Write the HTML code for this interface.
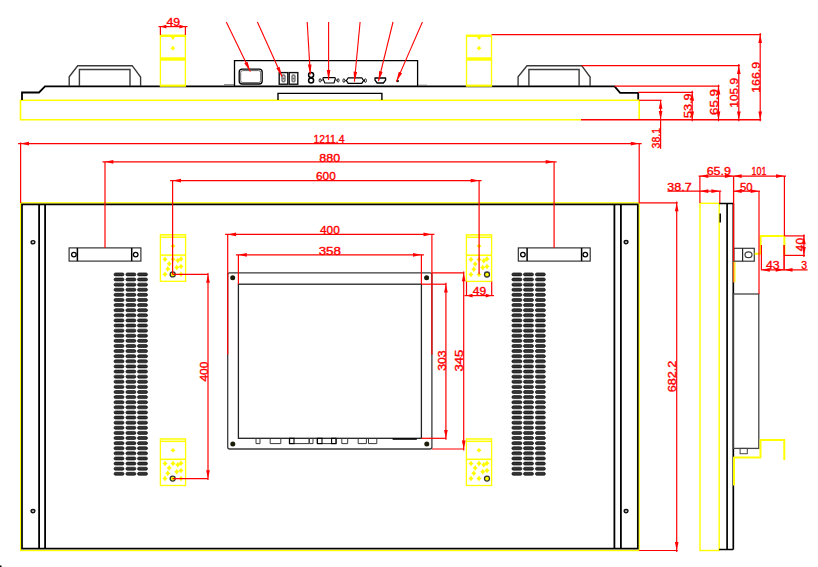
<!DOCTYPE html>
<html><head><meta charset="utf-8"><style>
html,body{margin:0;padding:0;background:#fff;}
body{width:818px;height:567px;overflow:hidden;}
svg{display:block;}
text{font-family:"Liberation Sans", sans-serif;}
</style></head><body>
<svg width="818" height="567" viewBox="0 0 818 567">
<rect width="818" height="567" fill="#fff"/>
<path d="M581,119.7 L20.5,119.7 L20.5,100.3 L639.2,100.3 L639.2,119.7" stroke="#ffff00" stroke-width="1.6" fill="none" />
<path d="M22,100 L22,92.5 L39,92.5 L45,86.3 L614.6,86.3 L620.1,92.8 L638.2,92.8 L638.2,99.6" stroke="#000000" stroke-width="1.8" fill="none" />
<path d="M69.2,86 L69.2,76.8 L77.7,65.7 L132.2,65.7 L140.6,77 L140.6,86" stroke="#3a3a3a" stroke-width="1.4" fill="none" />
<path d="M79.4,86 L79.4,69.5 L130.0,69.5 L130.0,86" stroke="#3a3a3a" stroke-width="1.4" fill="none" />
<path d="M518.1,86 L518.1,76.8 L527.0,65.7 L581.7,65.7 L590.1,77 L590.1,86" stroke="#3a3a3a" stroke-width="1.4" fill="none" />
<path d="M528.9,86 L528.9,69.5 L579.1,69.5 L579.1,86" stroke="#3a3a3a" stroke-width="1.4" fill="none" />
<rect x="160.4" y="35.2" width="25" height="50.9" fill="none" stroke="#ffff00" stroke-width="1.3"/>
<rect x="160.4" y="35" width="25" height="2" fill="#ffff00"/>
<rect x="160.4" y="57.3" width="25" height="3.4" fill="#ffff00"/>
<rect x="160.4" y="84.6" width="25" height="1.6" fill="#ffff00"/>
<path d="M170.5,36.5 L175.3,36.5 L172.9,40 Z" fill="#ffff00"/>
<path d="M172.90,45.60 Q173.57,47.47 175.30,48.20 Q173.57,48.93 172.90,50.80 Q172.23,48.93 170.50,48.20 Q172.23,47.47 172.90,45.60 Z" fill="#ffff00"/>
<rect x="466.5" y="35.2" width="25" height="50.9" fill="none" stroke="#ffff00" stroke-width="1.3"/>
<rect x="466.5" y="35" width="25" height="2" fill="#ffff00"/>
<rect x="466.5" y="57.3" width="25" height="3.4" fill="#ffff00"/>
<rect x="466.5" y="84.6" width="25" height="1.6" fill="#ffff00"/>
<path d="M476.6,36.5 L481.4,36.5 L479.0,40 Z" fill="#ffff00"/>
<path d="M479.00,45.60 Q479.67,47.47 481.40,48.20 Q479.67,48.93 479.00,50.80 Q478.33,48.93 476.60,48.20 Q478.33,47.47 479.00,45.60 Z" fill="#ffff00"/>
<path d="M234.5,86 L234.5,60.6 L417.6,60.6 L417.6,86" stroke="#000000" stroke-width="1.3" fill="none" />
<path d="M224,84.6 L234,84.6" stroke="#666" stroke-width="0.8" fill="none" />
<path d="M418,85.2 L427,85.2" stroke="#666" stroke-width="0.8" fill="none" />
<path d="M278,100 L278,93.4 L381.9,93.4 L381.9,100" stroke="#000000" stroke-width="1.4" fill="none" />
<rect x="239.2" y="69.2" width="23" height="14.8" rx="3" fill="none" stroke="#000000" stroke-width="1.3"/>
<rect x="240.7" y="70.6" width="20" height="12" rx="2" fill="none" stroke="#555" stroke-width="0.9"/>
<rect x="279.2" y="72.6" width="8.6" height="11.6" fill="none" stroke="#111" stroke-width="1.4"/>
<rect x="281.3" y="74.2" width="4.4" height="8.4" rx="2" fill="#777"/>
<path d="M282.3,77.6 L284.7,77.6 L283.5,75.8 Z M282.3,79.4 L284.7,79.4 L283.5,81.2 Z" fill="#eee"/>
<rect x="289.2" y="72.6" width="8.6" height="11.6" fill="none" stroke="#111" stroke-width="1.4"/>
<rect x="291.3" y="74.2" width="4.4" height="8.4" rx="2" fill="#777"/>
<path d="M292.3,77.6 L294.7,77.6 L293.5,75.8 Z M292.3,79.4 L294.7,79.4 L293.5,81.2 Z" fill="#eee"/>
<circle cx="311.1" cy="75.1" r="2.5" fill="none" stroke="#000000" stroke-width="1.5"/>
<circle cx="311.1" cy="80.6" r="2.5" fill="none" stroke="#000000" stroke-width="1.5"/>
<path d="M323.4,77.6 L334.6,77.6 Q335.6,77.6 335.3,78.6 L334.0,83.0 L324.8,83.0 L323.0,78.6 Q322.8,77.6 323.4,77.6 Z" stroke="#000000" stroke-width="1.1" fill="none" stroke-linejoin="round"/>
<path d="M321,80.4 L323.2,79.8 M335.2,79.8 L337.4,80.4" stroke="#000000" stroke-width="0.9" fill="none" />
<ellipse cx="320.1" cy="80.4" rx="1.0" ry="1.7" fill="none" stroke="#000000" stroke-width="0.9"/>
<ellipse cx="338.1" cy="80.4" rx="1.0" ry="1.7" fill="none" stroke="#000000" stroke-width="0.9"/>
<path d="M348.2,77.8 L361.8,77.8 L363.6,80.6 L361.8,83.3 L348.2,83.3 L346.4,80.6 Z" stroke="#000000" stroke-width="1.2" fill="none" stroke-linejoin="round"/>
<path d="M345.0,80.6 L346.4,80.6 M363.6,80.6 L365.0,80.6" stroke="#000000" stroke-width="0.9" fill="none" />
<ellipse cx="343.9" cy="80.6" rx="1.0" ry="1.8" fill="none" stroke="#000000" stroke-width="0.9"/>
<ellipse cx="365.4" cy="80.6" rx="1.0" ry="1.8" fill="none" stroke="#000000" stroke-width="0.9"/>
<path d="M375.0,78.0 L385.6,78.0 L385.6,80.2 L383.4,83.0 L377.2,83.0 L375.0,80.2 Z" stroke="#000000" stroke-width="1.3" fill="none" stroke-linejoin="round"/>
<circle cx="397.7" cy="81.0" r="1.3" fill="#222"/>
<rect x="20.7" y="202.9" width="618.4" height="347.6" fill="none" stroke="#ffff00" stroke-width="1.4"/>
<rect x="22.0" y="204.4" width="615.8" height="344.2" fill="none" stroke="#000000" stroke-width="1.7"/>
<line x1="39.1" y1="204.2" x2="39.1" y2="548.6" stroke="#000000" stroke-width="1.8" />
<line x1="45.1" y1="204.2" x2="45.1" y2="548.6" stroke="#000000" stroke-width="1.8" />
<line x1="614.4" y1="204.2" x2="614.4" y2="548.6" stroke="#000000" stroke-width="1.8" />
<line x1="620.9" y1="204.2" x2="620.9" y2="548.6" stroke="#000000" stroke-width="1.8" />
<ellipse cx="33" cy="242.2" rx="1.9" ry="1.6" fill="#ccc" stroke="#111" stroke-width="1.4"/>
<ellipse cx="33" cy="511.1" rx="1.9" ry="1.6" fill="#ccc" stroke="#111" stroke-width="1.4"/>
<ellipse cx="626.1" cy="242.1" rx="1.9" ry="1.6" fill="#ccc" stroke="#111" stroke-width="1.4"/>
<ellipse cx="626.1" cy="511.1" rx="1.9" ry="1.6" fill="#ccc" stroke="#111" stroke-width="1.4"/>
<rect x="69.1" y="247.9" width="71.8" height="13.2" fill="none" stroke="#222" stroke-width="1.1"/>
<line x1="77.4" y1="247.9" x2="77.4" y2="261.1" stroke="#000000" stroke-width="1.5" />
<line x1="131.7" y1="247.9" x2="131.7" y2="261.1" stroke="#000000" stroke-width="1.5" />
<circle cx="73.9" cy="254.6" r="2.3" fill="none" stroke="#000000" stroke-width="1.3"/>
<circle cx="135.7" cy="254.6" r="2.3" fill="none" stroke="#000000" stroke-width="1.3"/>
<rect x="518.3" y="247.9" width="71.9" height="13.2" fill="none" stroke="#222" stroke-width="1.1"/>
<line x1="527.1" y1="247.9" x2="527.1" y2="261.1" stroke="#000000" stroke-width="1.5" />
<line x1="581.6" y1="247.9" x2="581.6" y2="261.1" stroke="#000000" stroke-width="1.5" />
<circle cx="522.9" cy="254.6" r="2.3" fill="none" stroke="#000000" stroke-width="1.3"/>
<circle cx="585.3" cy="254.6" r="2.3" fill="none" stroke="#000000" stroke-width="1.3"/>
<g fill="#333" stroke="#000" stroke-width="0.6"><rect x="114.0" y="272.90" width="10" height="3.0" rx="1.5"/><rect x="125.9" y="272.90" width="10" height="3.0" rx="1.5"/><rect x="137.5" y="272.90" width="10" height="3.0" rx="1.5"/><rect x="114.0" y="278.01" width="10" height="3.0" rx="1.5"/><rect x="125.9" y="278.01" width="10" height="3.0" rx="1.5"/><rect x="137.5" y="278.01" width="10" height="3.0" rx="1.5"/><rect x="114.0" y="283.13" width="10" height="3.0" rx="1.5"/><rect x="125.9" y="283.13" width="10" height="3.0" rx="1.5"/><rect x="137.5" y="283.13" width="10" height="3.0" rx="1.5"/><rect x="114.0" y="288.24" width="10" height="3.0" rx="1.5"/><rect x="125.9" y="288.24" width="10" height="3.0" rx="1.5"/><rect x="137.5" y="288.24" width="10" height="3.0" rx="1.5"/><rect x="114.0" y="293.35" width="10" height="3.0" rx="1.5"/><rect x="125.9" y="293.35" width="10" height="3.0" rx="1.5"/><rect x="137.5" y="293.35" width="10" height="3.0" rx="1.5"/><rect x="114.0" y="298.46" width="10" height="3.0" rx="1.5"/><rect x="125.9" y="298.46" width="10" height="3.0" rx="1.5"/><rect x="137.5" y="298.46" width="10" height="3.0" rx="1.5"/><rect x="114.0" y="303.58" width="10" height="3.0" rx="1.5"/><rect x="125.9" y="303.58" width="10" height="3.0" rx="1.5"/><rect x="137.5" y="303.58" width="10" height="3.0" rx="1.5"/><rect x="114.0" y="308.69" width="10" height="3.0" rx="1.5"/><rect x="125.9" y="308.69" width="10" height="3.0" rx="1.5"/><rect x="137.5" y="308.69" width="10" height="3.0" rx="1.5"/><rect x="114.0" y="313.80" width="10" height="3.0" rx="1.5"/><rect x="125.9" y="313.80" width="10" height="3.0" rx="1.5"/><rect x="137.5" y="313.80" width="10" height="3.0" rx="1.5"/><rect x="114.0" y="318.92" width="10" height="3.0" rx="1.5"/><rect x="125.9" y="318.92" width="10" height="3.0" rx="1.5"/><rect x="137.5" y="318.92" width="10" height="3.0" rx="1.5"/><rect x="114.0" y="324.03" width="10" height="3.0" rx="1.5"/><rect x="125.9" y="324.03" width="10" height="3.0" rx="1.5"/><rect x="137.5" y="324.03" width="10" height="3.0" rx="1.5"/><rect x="114.0" y="329.14" width="10" height="3.0" rx="1.5"/><rect x="125.9" y="329.14" width="10" height="3.0" rx="1.5"/><rect x="137.5" y="329.14" width="10" height="3.0" rx="1.5"/><rect x="114.0" y="334.26" width="10" height="3.0" rx="1.5"/><rect x="125.9" y="334.26" width="10" height="3.0" rx="1.5"/><rect x="137.5" y="334.26" width="10" height="3.0" rx="1.5"/><rect x="114.0" y="339.37" width="10" height="3.0" rx="1.5"/><rect x="125.9" y="339.37" width="10" height="3.0" rx="1.5"/><rect x="137.5" y="339.37" width="10" height="3.0" rx="1.5"/><rect x="114.0" y="344.48" width="10" height="3.0" rx="1.5"/><rect x="125.9" y="344.48" width="10" height="3.0" rx="1.5"/><rect x="137.5" y="344.48" width="10" height="3.0" rx="1.5"/><rect x="114.0" y="349.59" width="10" height="3.0" rx="1.5"/><rect x="125.9" y="349.59" width="10" height="3.0" rx="1.5"/><rect x="137.5" y="349.59" width="10" height="3.0" rx="1.5"/><rect x="114.0" y="354.71" width="10" height="3.0" rx="1.5"/><rect x="125.9" y="354.71" width="10" height="3.0" rx="1.5"/><rect x="137.5" y="354.71" width="10" height="3.0" rx="1.5"/><rect x="114.0" y="359.82" width="10" height="3.0" rx="1.5"/><rect x="125.9" y="359.82" width="10" height="3.0" rx="1.5"/><rect x="137.5" y="359.82" width="10" height="3.0" rx="1.5"/><rect x="114.0" y="364.93" width="10" height="3.0" rx="1.5"/><rect x="125.9" y="364.93" width="10" height="3.0" rx="1.5"/><rect x="137.5" y="364.93" width="10" height="3.0" rx="1.5"/><rect x="114.0" y="370.05" width="10" height="3.0" rx="1.5"/><rect x="125.9" y="370.05" width="10" height="3.0" rx="1.5"/><rect x="137.5" y="370.05" width="10" height="3.0" rx="1.5"/><rect x="114.0" y="375.16" width="10" height="3.0" rx="1.5"/><rect x="125.9" y="375.16" width="10" height="3.0" rx="1.5"/><rect x="137.5" y="375.16" width="10" height="3.0" rx="1.5"/><rect x="114.0" y="380.27" width="10" height="3.0" rx="1.5"/><rect x="125.9" y="380.27" width="10" height="3.0" rx="1.5"/><rect x="137.5" y="380.27" width="10" height="3.0" rx="1.5"/><rect x="114.0" y="385.39" width="10" height="3.0" rx="1.5"/><rect x="125.9" y="385.39" width="10" height="3.0" rx="1.5"/><rect x="137.5" y="385.39" width="10" height="3.0" rx="1.5"/><rect x="114.0" y="390.50" width="10" height="3.0" rx="1.5"/><rect x="125.9" y="390.50" width="10" height="3.0" rx="1.5"/><rect x="137.5" y="390.50" width="10" height="3.0" rx="1.5"/><rect x="114.0" y="395.61" width="10" height="3.0" rx="1.5"/><rect x="125.9" y="395.61" width="10" height="3.0" rx="1.5"/><rect x="137.5" y="395.61" width="10" height="3.0" rx="1.5"/><rect x="114.0" y="400.73" width="10" height="3.0" rx="1.5"/><rect x="125.9" y="400.73" width="10" height="3.0" rx="1.5"/><rect x="137.5" y="400.73" width="10" height="3.0" rx="1.5"/><rect x="114.0" y="405.84" width="10" height="3.0" rx="1.5"/><rect x="125.9" y="405.84" width="10" height="3.0" rx="1.5"/><rect x="137.5" y="405.84" width="10" height="3.0" rx="1.5"/><rect x="114.0" y="410.95" width="10" height="3.0" rx="1.5"/><rect x="125.9" y="410.95" width="10" height="3.0" rx="1.5"/><rect x="137.5" y="410.95" width="10" height="3.0" rx="1.5"/><rect x="114.0" y="416.06" width="10" height="3.0" rx="1.5"/><rect x="125.9" y="416.06" width="10" height="3.0" rx="1.5"/><rect x="137.5" y="416.06" width="10" height="3.0" rx="1.5"/><rect x="114.0" y="421.18" width="10" height="3.0" rx="1.5"/><rect x="125.9" y="421.18" width="10" height="3.0" rx="1.5"/><rect x="137.5" y="421.18" width="10" height="3.0" rx="1.5"/><rect x="114.0" y="426.29" width="10" height="3.0" rx="1.5"/><rect x="125.9" y="426.29" width="10" height="3.0" rx="1.5"/><rect x="137.5" y="426.29" width="10" height="3.0" rx="1.5"/><rect x="114.0" y="431.40" width="10" height="3.0" rx="1.5"/><rect x="125.9" y="431.40" width="10" height="3.0" rx="1.5"/><rect x="137.5" y="431.40" width="10" height="3.0" rx="1.5"/><rect x="114.0" y="436.52" width="10" height="3.0" rx="1.5"/><rect x="125.9" y="436.52" width="10" height="3.0" rx="1.5"/><rect x="137.5" y="436.52" width="10" height="3.0" rx="1.5"/><rect x="114.0" y="441.63" width="10" height="3.0" rx="1.5"/><rect x="125.9" y="441.63" width="10" height="3.0" rx="1.5"/><rect x="137.5" y="441.63" width="10" height="3.0" rx="1.5"/><rect x="114.0" y="446.74" width="10" height="3.0" rx="1.5"/><rect x="125.9" y="446.74" width="10" height="3.0" rx="1.5"/><rect x="137.5" y="446.74" width="10" height="3.0" rx="1.5"/><rect x="114.0" y="451.86" width="10" height="3.0" rx="1.5"/><rect x="125.9" y="451.86" width="10" height="3.0" rx="1.5"/><rect x="137.5" y="451.86" width="10" height="3.0" rx="1.5"/><rect x="114.0" y="456.97" width="10" height="3.0" rx="1.5"/><rect x="125.9" y="456.97" width="10" height="3.0" rx="1.5"/><rect x="137.5" y="456.97" width="10" height="3.0" rx="1.5"/><rect x="114.0" y="462.08" width="10" height="3.0" rx="1.5"/><rect x="125.9" y="462.08" width="10" height="3.0" rx="1.5"/><rect x="137.5" y="462.08" width="10" height="3.0" rx="1.5"/><rect x="114.0" y="467.19" width="10" height="3.0" rx="1.5"/><rect x="125.9" y="467.19" width="10" height="3.0" rx="1.5"/><rect x="137.5" y="467.19" width="10" height="3.0" rx="1.5"/><rect x="114.0" y="472.31" width="10" height="3.0" rx="1.5"/><rect x="125.9" y="472.31" width="10" height="3.0" rx="1.5"/><rect x="137.5" y="472.31" width="10" height="3.0" rx="1.5"/><rect x="511.9" y="272.90" width="10" height="3.0" rx="1.5"/><rect x="523.5" y="272.90" width="10" height="3.0" rx="1.5"/><rect x="535.4" y="272.90" width="10" height="3.0" rx="1.5"/><rect x="511.9" y="278.01" width="10" height="3.0" rx="1.5"/><rect x="523.5" y="278.01" width="10" height="3.0" rx="1.5"/><rect x="535.4" y="278.01" width="10" height="3.0" rx="1.5"/><rect x="511.9" y="283.13" width="10" height="3.0" rx="1.5"/><rect x="523.5" y="283.13" width="10" height="3.0" rx="1.5"/><rect x="535.4" y="283.13" width="10" height="3.0" rx="1.5"/><rect x="511.9" y="288.24" width="10" height="3.0" rx="1.5"/><rect x="523.5" y="288.24" width="10" height="3.0" rx="1.5"/><rect x="535.4" y="288.24" width="10" height="3.0" rx="1.5"/><rect x="511.9" y="293.35" width="10" height="3.0" rx="1.5"/><rect x="523.5" y="293.35" width="10" height="3.0" rx="1.5"/><rect x="535.4" y="293.35" width="10" height="3.0" rx="1.5"/><rect x="511.9" y="298.46" width="10" height="3.0" rx="1.5"/><rect x="523.5" y="298.46" width="10" height="3.0" rx="1.5"/><rect x="535.4" y="298.46" width="10" height="3.0" rx="1.5"/><rect x="511.9" y="303.58" width="10" height="3.0" rx="1.5"/><rect x="523.5" y="303.58" width="10" height="3.0" rx="1.5"/><rect x="535.4" y="303.58" width="10" height="3.0" rx="1.5"/><rect x="511.9" y="308.69" width="10" height="3.0" rx="1.5"/><rect x="523.5" y="308.69" width="10" height="3.0" rx="1.5"/><rect x="535.4" y="308.69" width="10" height="3.0" rx="1.5"/><rect x="511.9" y="313.80" width="10" height="3.0" rx="1.5"/><rect x="523.5" y="313.80" width="10" height="3.0" rx="1.5"/><rect x="535.4" y="313.80" width="10" height="3.0" rx="1.5"/><rect x="511.9" y="318.92" width="10" height="3.0" rx="1.5"/><rect x="523.5" y="318.92" width="10" height="3.0" rx="1.5"/><rect x="535.4" y="318.92" width="10" height="3.0" rx="1.5"/><rect x="511.9" y="324.03" width="10" height="3.0" rx="1.5"/><rect x="523.5" y="324.03" width="10" height="3.0" rx="1.5"/><rect x="535.4" y="324.03" width="10" height="3.0" rx="1.5"/><rect x="511.9" y="329.14" width="10" height="3.0" rx="1.5"/><rect x="523.5" y="329.14" width="10" height="3.0" rx="1.5"/><rect x="535.4" y="329.14" width="10" height="3.0" rx="1.5"/><rect x="511.9" y="334.26" width="10" height="3.0" rx="1.5"/><rect x="523.5" y="334.26" width="10" height="3.0" rx="1.5"/><rect x="535.4" y="334.26" width="10" height="3.0" rx="1.5"/><rect x="511.9" y="339.37" width="10" height="3.0" rx="1.5"/><rect x="523.5" y="339.37" width="10" height="3.0" rx="1.5"/><rect x="535.4" y="339.37" width="10" height="3.0" rx="1.5"/><rect x="511.9" y="344.48" width="10" height="3.0" rx="1.5"/><rect x="523.5" y="344.48" width="10" height="3.0" rx="1.5"/><rect x="535.4" y="344.48" width="10" height="3.0" rx="1.5"/><rect x="511.9" y="349.59" width="10" height="3.0" rx="1.5"/><rect x="523.5" y="349.59" width="10" height="3.0" rx="1.5"/><rect x="535.4" y="349.59" width="10" height="3.0" rx="1.5"/><rect x="511.9" y="354.71" width="10" height="3.0" rx="1.5"/><rect x="523.5" y="354.71" width="10" height="3.0" rx="1.5"/><rect x="535.4" y="354.71" width="10" height="3.0" rx="1.5"/><rect x="511.9" y="359.82" width="10" height="3.0" rx="1.5"/><rect x="523.5" y="359.82" width="10" height="3.0" rx="1.5"/><rect x="535.4" y="359.82" width="10" height="3.0" rx="1.5"/><rect x="511.9" y="364.93" width="10" height="3.0" rx="1.5"/><rect x="523.5" y="364.93" width="10" height="3.0" rx="1.5"/><rect x="535.4" y="364.93" width="10" height="3.0" rx="1.5"/><rect x="511.9" y="370.05" width="10" height="3.0" rx="1.5"/><rect x="523.5" y="370.05" width="10" height="3.0" rx="1.5"/><rect x="535.4" y="370.05" width="10" height="3.0" rx="1.5"/><rect x="511.9" y="375.16" width="10" height="3.0" rx="1.5"/><rect x="523.5" y="375.16" width="10" height="3.0" rx="1.5"/><rect x="535.4" y="375.16" width="10" height="3.0" rx="1.5"/><rect x="511.9" y="380.27" width="10" height="3.0" rx="1.5"/><rect x="523.5" y="380.27" width="10" height="3.0" rx="1.5"/><rect x="535.4" y="380.27" width="10" height="3.0" rx="1.5"/><rect x="511.9" y="385.39" width="10" height="3.0" rx="1.5"/><rect x="523.5" y="385.39" width="10" height="3.0" rx="1.5"/><rect x="535.4" y="385.39" width="10" height="3.0" rx="1.5"/><rect x="511.9" y="390.50" width="10" height="3.0" rx="1.5"/><rect x="523.5" y="390.50" width="10" height="3.0" rx="1.5"/><rect x="535.4" y="390.50" width="10" height="3.0" rx="1.5"/><rect x="511.9" y="395.61" width="10" height="3.0" rx="1.5"/><rect x="523.5" y="395.61" width="10" height="3.0" rx="1.5"/><rect x="535.4" y="395.61" width="10" height="3.0" rx="1.5"/><rect x="511.9" y="400.73" width="10" height="3.0" rx="1.5"/><rect x="523.5" y="400.73" width="10" height="3.0" rx="1.5"/><rect x="535.4" y="400.73" width="10" height="3.0" rx="1.5"/><rect x="511.9" y="405.84" width="10" height="3.0" rx="1.5"/><rect x="523.5" y="405.84" width="10" height="3.0" rx="1.5"/><rect x="535.4" y="405.84" width="10" height="3.0" rx="1.5"/><rect x="511.9" y="410.95" width="10" height="3.0" rx="1.5"/><rect x="523.5" y="410.95" width="10" height="3.0" rx="1.5"/><rect x="535.4" y="410.95" width="10" height="3.0" rx="1.5"/><rect x="511.9" y="416.06" width="10" height="3.0" rx="1.5"/><rect x="523.5" y="416.06" width="10" height="3.0" rx="1.5"/><rect x="535.4" y="416.06" width="10" height="3.0" rx="1.5"/><rect x="511.9" y="421.18" width="10" height="3.0" rx="1.5"/><rect x="523.5" y="421.18" width="10" height="3.0" rx="1.5"/><rect x="535.4" y="421.18" width="10" height="3.0" rx="1.5"/><rect x="511.9" y="426.29" width="10" height="3.0" rx="1.5"/><rect x="523.5" y="426.29" width="10" height="3.0" rx="1.5"/><rect x="535.4" y="426.29" width="10" height="3.0" rx="1.5"/><rect x="511.9" y="431.40" width="10" height="3.0" rx="1.5"/><rect x="523.5" y="431.40" width="10" height="3.0" rx="1.5"/><rect x="535.4" y="431.40" width="10" height="3.0" rx="1.5"/><rect x="511.9" y="436.52" width="10" height="3.0" rx="1.5"/><rect x="523.5" y="436.52" width="10" height="3.0" rx="1.5"/><rect x="535.4" y="436.52" width="10" height="3.0" rx="1.5"/><rect x="511.9" y="441.63" width="10" height="3.0" rx="1.5"/><rect x="523.5" y="441.63" width="10" height="3.0" rx="1.5"/><rect x="535.4" y="441.63" width="10" height="3.0" rx="1.5"/><rect x="511.9" y="446.74" width="10" height="3.0" rx="1.5"/><rect x="523.5" y="446.74" width="10" height="3.0" rx="1.5"/><rect x="535.4" y="446.74" width="10" height="3.0" rx="1.5"/><rect x="511.9" y="451.86" width="10" height="3.0" rx="1.5"/><rect x="523.5" y="451.86" width="10" height="3.0" rx="1.5"/><rect x="535.4" y="451.86" width="10" height="3.0" rx="1.5"/><rect x="511.9" y="456.97" width="10" height="3.0" rx="1.5"/><rect x="523.5" y="456.97" width="10" height="3.0" rx="1.5"/><rect x="535.4" y="456.97" width="10" height="3.0" rx="1.5"/><rect x="511.9" y="462.08" width="10" height="3.0" rx="1.5"/><rect x="523.5" y="462.08" width="10" height="3.0" rx="1.5"/><rect x="535.4" y="462.08" width="10" height="3.0" rx="1.5"/><rect x="511.9" y="467.19" width="10" height="3.0" rx="1.5"/><rect x="523.5" y="467.19" width="10" height="3.0" rx="1.5"/><rect x="535.4" y="467.19" width="10" height="3.0" rx="1.5"/><rect x="511.9" y="472.31" width="10" height="3.0" rx="1.5"/><rect x="523.5" y="472.31" width="10" height="3.0" rx="1.5"/><rect x="535.4" y="472.31" width="10" height="3.0" rx="1.5"/></g>
<rect x="160.4" y="234.7" width="25.2" height="46.6" fill="none" stroke="#ffff00" stroke-width="1.3"/>
<rect x="160.4" y="234.7" width="25.2" height="2.6" fill="#ffff00" opacity="0.35"/>
<line x1="160.4" y1="237.29999999999998" x2="185.6" y2="237.29999999999998" stroke="#ffff00" stroke-width="1.2" />
<line x1="160.4" y1="255.1" x2="185.6" y2="255.1" stroke="#ffff00" stroke-width="1.5" />
<path d="M173.00,243.50 Q173.76,245.30 175.70,246.00 Q173.76,246.70 173.00,248.50 Q172.24,246.70 170.30,246.00 Q172.24,245.30 173.00,243.50 Z" fill="#ffff00"/>
<path d="M165.00,256.30 Q165.73,258.46 167.60,259.30 Q165.73,260.14 165.00,262.30 Q164.27,260.14 162.40,259.30 Q164.27,258.46 165.00,256.30 Z" fill="#ffff00"/>
<path d="M173.00,256.30 Q173.73,258.46 175.60,259.30 Q173.73,260.14 173.00,262.30 Q172.27,260.14 170.40,259.30 Q172.27,258.46 173.00,256.30 Z" fill="#ffff00"/>
<path d="M177.80,257.60 Q178.53,259.76 180.40,260.60 Q178.53,261.44 177.80,263.60 Q177.07,261.44 175.20,260.60 Q177.07,259.76 177.80,257.60 Z" fill="#ffff00"/>
<path d="M181.00,256.00 Q181.73,258.16 183.60,259.00 Q181.73,259.84 181.00,262.00 Q180.27,259.84 178.40,259.00 Q180.27,258.16 181.00,256.00 Z" fill="#ffff00"/>
<path d="M169.20,260.80 Q169.93,262.96 171.80,263.80 Q169.93,264.64 169.20,266.80 Q168.47,264.64 166.60,263.80 Q168.47,262.96 169.20,260.80 Z" fill="#ffff00"/>
<path d="M167.80,266.10 Q168.53,268.26 170.40,269.10 Q168.53,269.94 167.80,272.10 Q167.07,269.94 165.20,269.10 Q167.07,268.26 167.80,266.10 Z" fill="#ffff00"/>
<path d="M176.80,264.50 Q177.53,266.66 179.40,267.50 Q177.53,268.34 176.80,270.50 Q176.07,268.34 174.20,267.50 Q176.07,266.66 176.80,264.50 Z" fill="#ffff00"/>
<path d="M181.00,263.40 Q181.73,265.56 183.60,266.40 Q181.73,267.24 181.00,269.40 Q180.27,267.24 178.40,266.40 Q180.27,265.56 181.00,263.40 Z" fill="#ffff00"/>
<path d="M165.00,271.30 Q165.73,273.46 167.60,274.30 Q165.73,275.14 165.00,277.30 Q164.27,275.14 162.40,274.30 Q164.27,273.46 165.00,271.30 Z" fill="#ffff00"/>
<path d="M181.00,271.30 Q181.73,273.46 183.60,274.30 Q181.73,275.14 181.00,277.30 Q180.27,275.14 178.40,274.30 Q180.27,273.46 181.00,271.30 Z" fill="#ffff00"/>
<circle cx="172.7" cy="274.4" r="2.5" fill="#ffff00" stroke="#333" stroke-width="1.3"/>
<rect x="160.4" y="438.9" width="25.2" height="46.6" fill="none" stroke="#ffff00" stroke-width="1.3"/>
<rect x="160.4" y="438.9" width="25.2" height="2.6" fill="#ffff00" opacity="0.35"/>
<line x1="160.4" y1="441.5" x2="185.6" y2="441.5" stroke="#ffff00" stroke-width="1.2" />
<line x1="160.4" y1="459.29999999999995" x2="185.6" y2="459.29999999999995" stroke="#ffff00" stroke-width="1.5" />
<path d="M173.00,447.70 Q173.76,449.50 175.70,450.20 Q173.76,450.90 173.00,452.70 Q172.24,450.90 170.30,450.20 Q172.24,449.50 173.00,447.70 Z" fill="#ffff00"/>
<path d="M165.00,460.50 Q165.73,462.66 167.60,463.50 Q165.73,464.34 165.00,466.50 Q164.27,464.34 162.40,463.50 Q164.27,462.66 165.00,460.50 Z" fill="#ffff00"/>
<path d="M173.00,460.50 Q173.73,462.66 175.60,463.50 Q173.73,464.34 173.00,466.50 Q172.27,464.34 170.40,463.50 Q172.27,462.66 173.00,460.50 Z" fill="#ffff00"/>
<path d="M177.80,461.80 Q178.53,463.96 180.40,464.80 Q178.53,465.64 177.80,467.80 Q177.07,465.64 175.20,464.80 Q177.07,463.96 177.80,461.80 Z" fill="#ffff00"/>
<path d="M181.00,460.20 Q181.73,462.36 183.60,463.20 Q181.73,464.04 181.00,466.20 Q180.27,464.04 178.40,463.20 Q180.27,462.36 181.00,460.20 Z" fill="#ffff00"/>
<path d="M169.20,465.00 Q169.93,467.16 171.80,468.00 Q169.93,468.84 169.20,471.00 Q168.47,468.84 166.60,468.00 Q168.47,467.16 169.20,465.00 Z" fill="#ffff00"/>
<path d="M167.80,470.30 Q168.53,472.46 170.40,473.30 Q168.53,474.14 167.80,476.30 Q167.07,474.14 165.20,473.30 Q167.07,472.46 167.80,470.30 Z" fill="#ffff00"/>
<path d="M176.80,468.70 Q177.53,470.86 179.40,471.70 Q177.53,472.54 176.80,474.70 Q176.07,472.54 174.20,471.70 Q176.07,470.86 176.80,468.70 Z" fill="#ffff00"/>
<path d="M181.00,467.60 Q181.73,469.76 183.60,470.60 Q181.73,471.44 181.00,473.60 Q180.27,471.44 178.40,470.60 Q180.27,469.76 181.00,467.60 Z" fill="#ffff00"/>
<path d="M165.00,475.50 Q165.73,477.66 167.60,478.50 Q165.73,479.34 165.00,481.50 Q164.27,479.34 162.40,478.50 Q164.27,477.66 165.00,475.50 Z" fill="#ffff00"/>
<path d="M181.00,475.50 Q181.73,477.66 183.60,478.50 Q181.73,479.34 181.00,481.50 Q180.27,479.34 178.40,478.50 Q180.27,477.66 181.00,475.50 Z" fill="#ffff00"/>
<circle cx="172.7" cy="478.6" r="2.5" fill="#ffff00" stroke="#333" stroke-width="1.3"/>
<rect x="466.4" y="234.8" width="25.2" height="46.6" fill="none" stroke="#ffff00" stroke-width="1.3"/>
<rect x="466.4" y="234.8" width="25.2" height="2.6" fill="#ffff00" opacity="0.35"/>
<line x1="466.4" y1="237.4" x2="491.59999999999997" y2="237.4" stroke="#ffff00" stroke-width="1.2" />
<line x1="466.4" y1="255.20000000000002" x2="491.59999999999997" y2="255.20000000000002" stroke="#ffff00" stroke-width="1.5" />
<path d="M479.00,243.60 Q479.76,245.40 481.70,246.10 Q479.76,246.80 479.00,248.60 Q478.24,246.80 476.30,246.10 Q478.24,245.40 479.00,243.60 Z" fill="#ffff00"/>
<path d="M471.00,256.40 Q471.73,258.56 473.60,259.40 Q471.73,260.24 471.00,262.40 Q470.27,260.24 468.40,259.40 Q470.27,258.56 471.00,256.40 Z" fill="#ffff00"/>
<path d="M479.00,256.40 Q479.73,258.56 481.60,259.40 Q479.73,260.24 479.00,262.40 Q478.27,260.24 476.40,259.40 Q478.27,258.56 479.00,256.40 Z" fill="#ffff00"/>
<path d="M483.80,257.70 Q484.53,259.86 486.40,260.70 Q484.53,261.54 483.80,263.70 Q483.07,261.54 481.20,260.70 Q483.07,259.86 483.80,257.70 Z" fill="#ffff00"/>
<path d="M487.00,256.10 Q487.73,258.26 489.60,259.10 Q487.73,259.94 487.00,262.10 Q486.27,259.94 484.40,259.10 Q486.27,258.26 487.00,256.10 Z" fill="#ffff00"/>
<path d="M475.20,260.90 Q475.93,263.06 477.80,263.90 Q475.93,264.74 475.20,266.90 Q474.47,264.74 472.60,263.90 Q474.47,263.06 475.20,260.90 Z" fill="#ffff00"/>
<path d="M473.80,266.20 Q474.53,268.36 476.40,269.20 Q474.53,270.04 473.80,272.20 Q473.07,270.04 471.20,269.20 Q473.07,268.36 473.80,266.20 Z" fill="#ffff00"/>
<path d="M482.80,264.60 Q483.53,266.76 485.40,267.60 Q483.53,268.44 482.80,270.60 Q482.07,268.44 480.20,267.60 Q482.07,266.76 482.80,264.60 Z" fill="#ffff00"/>
<path d="M487.00,263.50 Q487.73,265.66 489.60,266.50 Q487.73,267.34 487.00,269.50 Q486.27,267.34 484.40,266.50 Q486.27,265.66 487.00,263.50 Z" fill="#ffff00"/>
<path d="M471.00,271.40 Q471.73,273.56 473.60,274.40 Q471.73,275.24 471.00,277.40 Q470.27,275.24 468.40,274.40 Q470.27,273.56 471.00,271.40 Z" fill="#ffff00"/>
<path d="M479.00,271.40 Q479.73,273.56 481.60,274.40 Q479.73,275.24 479.00,277.40 Q478.27,275.24 476.40,274.40 Q478.27,273.56 479.00,271.40 Z" fill="#ffff00"/>
<circle cx="487.0" cy="274.5" r="2.5" fill="#ffff00" stroke="#333" stroke-width="1.3"/>
<rect x="466.4" y="438.9" width="25.2" height="46.6" fill="none" stroke="#ffff00" stroke-width="1.3"/>
<rect x="466.4" y="438.9" width="25.2" height="2.6" fill="#ffff00" opacity="0.35"/>
<line x1="466.4" y1="441.5" x2="491.59999999999997" y2="441.5" stroke="#ffff00" stroke-width="1.2" />
<line x1="466.4" y1="459.29999999999995" x2="491.59999999999997" y2="459.29999999999995" stroke="#ffff00" stroke-width="1.5" />
<path d="M479.00,447.70 Q479.76,449.50 481.70,450.20 Q479.76,450.90 479.00,452.70 Q478.24,450.90 476.30,450.20 Q478.24,449.50 479.00,447.70 Z" fill="#ffff00"/>
<path d="M471.00,460.50 Q471.73,462.66 473.60,463.50 Q471.73,464.34 471.00,466.50 Q470.27,464.34 468.40,463.50 Q470.27,462.66 471.00,460.50 Z" fill="#ffff00"/>
<path d="M479.00,460.50 Q479.73,462.66 481.60,463.50 Q479.73,464.34 479.00,466.50 Q478.27,464.34 476.40,463.50 Q478.27,462.66 479.00,460.50 Z" fill="#ffff00"/>
<path d="M483.80,461.80 Q484.53,463.96 486.40,464.80 Q484.53,465.64 483.80,467.80 Q483.07,465.64 481.20,464.80 Q483.07,463.96 483.80,461.80 Z" fill="#ffff00"/>
<path d="M487.00,460.20 Q487.73,462.36 489.60,463.20 Q487.73,464.04 487.00,466.20 Q486.27,464.04 484.40,463.20 Q486.27,462.36 487.00,460.20 Z" fill="#ffff00"/>
<path d="M475.20,465.00 Q475.93,467.16 477.80,468.00 Q475.93,468.84 475.20,471.00 Q474.47,468.84 472.60,468.00 Q474.47,467.16 475.20,465.00 Z" fill="#ffff00"/>
<path d="M473.80,470.30 Q474.53,472.46 476.40,473.30 Q474.53,474.14 473.80,476.30 Q473.07,474.14 471.20,473.30 Q473.07,472.46 473.80,470.30 Z" fill="#ffff00"/>
<path d="M482.80,468.70 Q483.53,470.86 485.40,471.70 Q483.53,472.54 482.80,474.70 Q482.07,472.54 480.20,471.70 Q482.07,470.86 482.80,468.70 Z" fill="#ffff00"/>
<path d="M487.00,467.60 Q487.73,469.76 489.60,470.60 Q487.73,471.44 487.00,473.60 Q486.27,471.44 484.40,470.60 Q486.27,469.76 487.00,467.60 Z" fill="#ffff00"/>
<path d="M471.00,475.50 Q471.73,477.66 473.60,478.50 Q471.73,479.34 471.00,481.50 Q470.27,479.34 468.40,478.50 Q470.27,477.66 471.00,475.50 Z" fill="#ffff00"/>
<path d="M479.00,475.50 Q479.73,477.66 481.60,478.50 Q479.73,479.34 479.00,481.50 Q478.27,479.34 476.40,478.50 Q478.27,477.66 479.00,475.50 Z" fill="#ffff00"/>
<circle cx="487.0" cy="478.6" r="2.5" fill="#ffff00" stroke="#333" stroke-width="1.3"/>
<rect x="227.7" y="272.9" width="204.2" height="176.1" rx="2" fill="none" stroke="#3a3a3a" stroke-width="1.3"/>
<rect x="238.4" y="284.2" width="183.0" height="154.1" fill="none" stroke="#222" stroke-width="1.3"/>
<circle cx="232.7" cy="277.7" r="2.5" fill="#1c1c0a"/>
<circle cx="426.6" cy="277.8" r="2.5" fill="#1c1c0a"/>
<circle cx="232.8" cy="443.9" r="2.5" fill="#1c1c0a"/>
<circle cx="426.8" cy="443.9" r="2.5" fill="#1c1c0a"/>
<path d="M256.0,438.3 L256.0,443.6 L260.0,443.6 L260.0,438.3" stroke="#3a3a3a" stroke-width="1.0" fill="none" />
<path d="M270.2,438.3 L270.2,443.6 L280.8,443.6 L280.8,438.3" stroke="#3a3a3a" stroke-width="1.0" fill="none" />
<path d="M289.3,438.3 L289.3,443.6 L309.0,443.6 L309.0,438.3" stroke="#3a3a3a" stroke-width="1.0" fill="none" />
<path d="M309.4,438.3 L309.4,443.6 L313.0,443.6 L313.0,438.3" stroke="#3a3a3a" stroke-width="1.0" fill="none" />
<path d="M317.2,438.3 L317.2,443.6 L336.2,443.6 L336.2,438.3" stroke="#3a3a3a" stroke-width="1.0" fill="none" />
<path d="M341.8,438.3 L341.8,443.6 L347.7,443.6 L347.7,438.3" stroke="#3a3a3a" stroke-width="1.0" fill="none" />
<path d="M358.2,438.3 L358.2,443.6 L366.4,443.6 L366.4,438.3" stroke="#3a3a3a" stroke-width="1.0" fill="none" />
<path d="M368.5,438.3 L368.5,443.6 L376.8,443.6 L376.8,438.3" stroke="#3a3a3a" stroke-width="1.0" fill="none" />
<rect x="289.6" y="438.3" width="4.4" height="5.3" fill="none" stroke="#000000" stroke-width="1.1"/>
<rect x="317.4" y="438.3" width="4.6" height="5.3" fill="none" stroke="#000000" stroke-width="1.1"/>
<rect x="331.6" y="438.3" width="4.4" height="5.3" fill="none" stroke="#000000" stroke-width="1.1"/>
<line x1="392.6" y1="439.0" x2="416.8" y2="439.0" stroke="#000000" stroke-width="1.6" />
<rect x="700" y="203.3" width="19.2" height="347.2" fill="none" stroke="#ffff00" stroke-width="1.4"/>
<path d="M719.2,203.5 L733.3,203.5 M719.2,549.5 L733.3,549.5" stroke="#000000" stroke-width="1.7" fill="none" />
<line x1="727.1" y1="203.5" x2="727.1" y2="549.5" stroke="#000000" stroke-width="1.7" />
<line x1="733.3" y1="203.5" x2="733.3" y2="549.5" stroke="#000000" stroke-width="1.7" />
<line x1="720.2" y1="213.4" x2="720.2" y2="222.6" stroke="#000000" stroke-width="1.5" />
<line x1="733.6" y1="261" x2="733.6" y2="282.4" stroke="#ff6000" stroke-width="1.4" />
<line x1="735.0" y1="261" x2="735.0" y2="282.4" stroke="#ffff00" stroke-width="1.0" />
<rect x="733.8" y="248.3" width="20.5" height="12.9" fill="none" stroke="#3a3a3a" stroke-width="1.2"/>
<line x1="742.6" y1="248.3" x2="742.6" y2="261.2" stroke="#222" stroke-width="1.2" />
<ellipse cx="748.5" cy="254.7" rx="3.5" ry="2.9" fill="none" stroke="#3a3a3a" stroke-width="1.2"/>
<path d="M754.6,253.8 L760.6,253.8 L760.6,235.9 L784.4,235.9 L784.4,254.9" stroke="#ffff00" stroke-width="2.0" fill="none" stroke-linejoin="round"/>
<rect x="733.3" y="294" width="25.5" height="154.4" fill="none" stroke="#444" stroke-width="1.3"/>
<rect x="740.1" y="448.4" width="7.2" height="5.3" fill="none" stroke="#444" stroke-width="1.0"/>
<path d="M734,484.8 L734,457.6 L760.5,457.6 L760.5,440.1 L784.3,440.1 L784.3,459.2" stroke="#ffff00" stroke-width="2.0" fill="none" stroke-linejoin="round" stroke-linecap="round"/>
<rect x="0" y="565.5" width="1.5" height="1.5" fill="#000000"/>
<line x1="226.3" y1="22" x2="250.3" y2="71.5" stroke="#ff0000" stroke-width="1.1" />
<path d="M250.30,71.50 L244.32,63.29 L247.56,61.72 Z" fill="#ff0000" stroke="none"/>
<line x1="257.4" y1="22" x2="282" y2="76.5" stroke="#ff0000" stroke-width="1.1" />
<path d="M282.00,76.50 L276.25,68.13 L279.53,66.64 Z" fill="#ff0000" stroke="none"/>
<line x1="307.2" y1="22" x2="310.3" y2="74.5" stroke="#ff0000" stroke-width="1.1" />
<path d="M310.30,74.50 L307.91,64.62 L311.51,64.41 Z" fill="#ff0000" stroke="none"/>
<line x1="328.6" y1="22" x2="328.6" y2="80" stroke="#ff0000" stroke-width="1.1" />
<path d="M328.60,80.00 L326.80,70.00 L330.40,70.00 Z" fill="#ff0000" stroke="none"/>
<line x1="360.1" y1="22" x2="354.4" y2="81.7" stroke="#ff0000" stroke-width="1.1" />
<path d="M354.40,81.70 L353.56,71.57 L357.14,71.92 Z" fill="#ff0000" stroke="none"/>
<line x1="393" y1="22" x2="378.5" y2="81.2" stroke="#ff0000" stroke-width="1.1" />
<path d="M378.50,81.20 L379.13,71.06 L382.63,71.92 Z" fill="#ff0000" stroke="none"/>
<line x1="422.4" y1="22" x2="396.4" y2="81.6" stroke="#ff0000" stroke-width="1.1" />
<path d="M396.40,81.60 L398.75,71.71 L402.05,73.15 Z" fill="#ff0000" stroke="none"/>
<line x1="160.4" y1="26.6" x2="160.4" y2="35" stroke="#ff0000" stroke-width="1.2" />
<line x1="185.4" y1="26.6" x2="185.4" y2="35" stroke="#ff0000" stroke-width="1.2" />
<line x1="158.5" y1="26.6" x2="187.5" y2="26.6" stroke="#ff0000" stroke-width="1.2" />
<path d="M160.40,26.60 L166.40,24.75 L166.40,28.45 Z" fill="#ff0000" stroke="none"/>
<path d="M185.40,26.60 L179.40,28.45 L179.40,24.75 Z" fill="#ff0000" stroke="none"/>
<text x="173.2" y="25.6" font-size="10" fill="#ff0000" stroke="#ff0000" stroke-width="0.35" text-anchor="middle" textLength="13.5" lengthAdjust="spacingAndGlyphs">49</text>
<line x1="491.6" y1="34.6" x2="761.2" y2="34.6" stroke="#ff0000" stroke-width="1.2" />
<line x1="581.7" y1="65.6" x2="739.8" y2="65.6" stroke="#ff0000" stroke-width="1.2" />
<line x1="614.6" y1="86.2" x2="719.5" y2="86.2" stroke="#ff0000" stroke-width="1.2" />
<line x1="638.2" y1="92.3" x2="693.2" y2="92.3" stroke="#ff0000" stroke-width="1.2" />
<line x1="639.2" y1="100.3" x2="661.6" y2="100.3" stroke="#ff0000" stroke-width="1.2" />
<line x1="581" y1="119.8" x2="761.2" y2="119.8" stroke="#ff0000" stroke-width="1.4" />
<line x1="760.2" y1="33.1" x2="760.2" y2="121.3" stroke="#ff0000" stroke-width="1.2" />
<path d="M760.20,34.60 L762.05,43.00 L758.35,43.00 Z" fill="#ff0000" stroke="none"/>
<path d="M760.20,119.80 L758.35,111.40 L762.05,111.40 Z" fill="#ff0000" stroke="none"/>
<text x="759.9000000000001" y="77.4" font-size="11" fill="#ff0000" stroke="#ff0000" stroke-width="0.35" text-anchor="middle" textLength="30.8" lengthAdjust="spacingAndGlyphs" transform="rotate(-90 759.9000000000001 77.4)">166.9</text>
<line x1="738.8" y1="64.1" x2="738.8" y2="121.3" stroke="#ff0000" stroke-width="1.2" />
<path d="M738.80,65.60 L740.65,74.00 L736.95,74.00 Z" fill="#ff0000" stroke="none"/>
<path d="M738.80,119.80 L736.95,111.40 L740.65,111.40 Z" fill="#ff0000" stroke="none"/>
<text x="738.5" y="92.85" font-size="11" fill="#ff0000" stroke="#ff0000" stroke-width="0.35" text-anchor="middle" textLength="29.7" lengthAdjust="spacingAndGlyphs" transform="rotate(-90 738.5 92.85)">105.9</text>
<line x1="718.5" y1="84.7" x2="718.5" y2="121.3" stroke="#ff0000" stroke-width="1.2" />
<path d="M718.50,86.20 L720.35,94.60 L716.65,94.60 Z" fill="#ff0000" stroke="none"/>
<path d="M718.50,119.80 L716.65,111.40 L720.35,111.40 Z" fill="#ff0000" stroke="none"/>
<text x="718.2" y="102.0" font-size="11" fill="#ff0000" stroke="#ff0000" stroke-width="0.35" text-anchor="middle" textLength="26.0" lengthAdjust="spacingAndGlyphs" transform="rotate(-90 718.2 102.0)">65.9</text>
<line x1="692.2" y1="90.8" x2="692.2" y2="121.3" stroke="#ff0000" stroke-width="1.2" />
<path d="M692.20,92.30 L694.05,100.70 L690.35,100.70 Z" fill="#ff0000" stroke="none"/>
<path d="M692.20,119.80 L690.35,111.40 L694.05,111.40 Z" fill="#ff0000" stroke="none"/>
<text x="691.9000000000001" y="105.75" font-size="11" fill="#ff0000" stroke="#ff0000" stroke-width="0.35" text-anchor="middle" textLength="24.5" lengthAdjust="spacingAndGlyphs" transform="rotate(-90 691.9000000000001 105.75)">53.9</text>
<line x1="660.6" y1="100.3" x2="660.6" y2="148.7" stroke="#ff0000" stroke-width="1.2" />
<path d="M660.60,100.30 L662.45,108.70 L658.75,108.70 Z" fill="#ff0000" stroke="none"/>
<path d="M660.60,119.50 L658.75,111.10 L662.45,111.10 Z" fill="#ff0000" stroke="none"/>
<text x="660.0" y="138.2" font-size="11" fill="#ff0000" stroke="#ff0000" stroke-width="0.35" text-anchor="middle" textLength="20.5" lengthAdjust="spacingAndGlyphs" transform="rotate(-90 660.0 138.2)">38.1</text>
<line x1="20.6" y1="142.5" x2="20.6" y2="203" stroke="#ff0000" stroke-width="1.2" />
<line x1="639.2" y1="143.6" x2="639.2" y2="203" stroke="#ff0000" stroke-width="1.2" />
<line x1="18.1" y1="143.6" x2="641.7" y2="143.6" stroke="#ff0000" stroke-width="1.2" />
<path d="M20.60,143.60 L29.00,141.75 L29.00,145.45 Z" fill="#ff0000" stroke="none"/>
<path d="M639.20,143.60 L630.80,145.45 L630.80,141.75 Z" fill="#ff0000" stroke="none"/>
<text x="328.95" y="143.29999999999998" font-size="11" fill="#ff0000" stroke="#ff0000" stroke-width="0.35" text-anchor="middle" textLength="31.1" lengthAdjust="spacingAndGlyphs">1211.4</text>
<line x1="105.0" y1="161.8" x2="105.0" y2="248" stroke="#ff0000" stroke-width="1.2" />
<line x1="554.1" y1="161.8" x2="554.1" y2="248" stroke="#ff0000" stroke-width="1.2" />
<line x1="102.5" y1="161.8" x2="556.6" y2="161.8" stroke="#ff0000" stroke-width="1.2" />
<path d="M105.00,161.80 L113.40,159.95 L113.40,163.65 Z" fill="#ff0000" stroke="none"/>
<path d="M554.10,161.80 L545.70,163.65 L545.70,159.95 Z" fill="#ff0000" stroke="none"/>
<text x="329.70000000000005" y="161.5" font-size="11" fill="#ff0000" stroke="#ff0000" stroke-width="0.35" text-anchor="middle" textLength="20.8" lengthAdjust="spacingAndGlyphs">880</text>
<line x1="172.6" y1="180.6" x2="172.6" y2="274.3" stroke="#ff0000" stroke-width="1.2" />
<line x1="479.1" y1="180.6" x2="479.1" y2="274.3" stroke="#ff0000" stroke-width="1.2" />
<line x1="170.1" y1="180.6" x2="481.6" y2="180.6" stroke="#ff0000" stroke-width="1.2" />
<path d="M172.60,180.60 L181.00,178.75 L181.00,182.45 Z" fill="#ff0000" stroke="none"/>
<path d="M479.10,180.60 L470.70,182.45 L470.70,178.75 Z" fill="#ff0000" stroke="none"/>
<text x="325.85" y="180.29999999999998" font-size="11" fill="#ff0000" stroke="#ff0000" stroke-width="0.35" text-anchor="middle" textLength="19.7" lengthAdjust="spacingAndGlyphs">600</text>
<line x1="227.7" y1="234.4" x2="227.7" y2="354.6" stroke="#ff0000" stroke-width="1.2" />
<line x1="431.9" y1="234.4" x2="431.9" y2="354.6" stroke="#ff0000" stroke-width="1.2" />
<line x1="225.2" y1="234.4" x2="434.4" y2="234.4" stroke="#ff0000" stroke-width="1.2" />
<path d="M227.70,234.40 L236.10,232.55 L236.10,236.25 Z" fill="#ff0000" stroke="none"/>
<path d="M431.90,234.40 L423.50,236.25 L423.50,232.55 Z" fill="#ff0000" stroke="none"/>
<text x="329.85" y="234.1" font-size="11" fill="#ff0000" stroke="#ff0000" stroke-width="0.35" text-anchor="middle" textLength="19.7" lengthAdjust="spacingAndGlyphs">400</text>
<line x1="238.4" y1="254.8" x2="238.4" y2="284.2" stroke="#ff0000" stroke-width="1.2" />
<line x1="421.4" y1="254.8" x2="421.4" y2="284.2" stroke="#ff0000" stroke-width="1.2" />
<line x1="235.9" y1="254.8" x2="423.9" y2="254.8" stroke="#ff0000" stroke-width="1.2" />
<path d="M238.40,254.80 L246.80,252.95 L246.80,256.65 Z" fill="#ff0000" stroke="none"/>
<path d="M421.40,254.80 L413.00,256.65 L413.00,252.95 Z" fill="#ff0000" stroke="none"/>
<text x="329.85" y="254.5" font-size="11" fill="#ff0000" stroke="#ff0000" stroke-width="0.35" text-anchor="middle" textLength="22.3" lengthAdjust="spacingAndGlyphs">358</text>
<line x1="172.5" y1="274.4" x2="208.0" y2="274.4" stroke="#ff0000" stroke-width="1.2" />
<line x1="172.5" y1="478.6" x2="208.0" y2="478.6" stroke="#ff0000" stroke-width="1.2" />
<line x1="208.0" y1="272.9" x2="208.0" y2="480.1" stroke="#ff0000" stroke-width="1.2" />
<path d="M208.00,274.40 L209.85,282.80 L206.15,282.80 Z" fill="#ff0000" stroke="none"/>
<path d="M208.00,478.60 L206.15,470.20 L209.85,470.20 Z" fill="#ff0000" stroke="none"/>
<text x="207.7" y="371.65" font-size="11" fill="#ff0000" stroke="#ff0000" stroke-width="0.35" text-anchor="middle" textLength="19.9" lengthAdjust="spacingAndGlyphs" transform="rotate(-90 207.7 371.65)">400</text>
<line x1="421.4" y1="284.2" x2="446.4" y2="284.2" stroke="#ff0000" stroke-width="1.2" />
<line x1="421.4" y1="438.3" x2="446.4" y2="438.3" stroke="#ff0000" stroke-width="1.2" />
<line x1="445.9" y1="282.7" x2="445.9" y2="439.8" stroke="#ff0000" stroke-width="1.2" />
<path d="M445.90,284.20 L447.75,292.60 L444.05,292.60 Z" fill="#ff0000" stroke="none"/>
<path d="M445.90,438.30 L444.05,429.90 L447.75,429.90 Z" fill="#ff0000" stroke="none"/>
<text x="445.59999999999997" y="360.6" font-size="11" fill="#ff0000" stroke="#ff0000" stroke-width="0.35" text-anchor="middle" textLength="20.4" lengthAdjust="spacingAndGlyphs" transform="rotate(-90 445.59999999999997 360.6)">303</text>
<line x1="431.9" y1="272.9" x2="464.2" y2="272.9" stroke="#ff0000" stroke-width="1.2" />
<line x1="431.9" y1="449.0" x2="464.2" y2="449.0" stroke="#ff0000" stroke-width="1.2" />
<line x1="463.7" y1="271.4" x2="463.7" y2="450.5" stroke="#ff0000" stroke-width="1.2" />
<path d="M463.70,272.90 L465.55,281.30 L461.85,281.30 Z" fill="#ff0000" stroke="none"/>
<path d="M463.70,449.00 L461.85,440.60 L465.55,440.60 Z" fill="#ff0000" stroke="none"/>
<text x="463.4" y="360.55" font-size="11" fill="#ff0000" stroke="#ff0000" stroke-width="0.35" text-anchor="middle" textLength="21.9" lengthAdjust="spacingAndGlyphs" transform="rotate(-90 463.4 360.55)">345</text>
<line x1="466.5" y1="281.5" x2="466.5" y2="295.8" stroke="#ff0000" stroke-width="1.2" />
<line x1="491.7" y1="281.5" x2="491.7" y2="295.8" stroke="#ff0000" stroke-width="1.2" />
<line x1="464.5" y1="295.6" x2="494" y2="295.6" stroke="#ff0000" stroke-width="1.2" />
<path d="M466.50,295.60 L472.50,293.75 L472.50,297.45 Z" fill="#ff0000" stroke="none"/>
<path d="M491.70,295.60 L485.70,297.45 L485.70,293.75 Z" fill="#ff0000" stroke="none"/>
<text x="479.5" y="295.0" font-size="10" fill="#ff0000" stroke="#ff0000" stroke-width="0.35" text-anchor="middle" textLength="13.4" lengthAdjust="spacingAndGlyphs">49</text>
<line x1="639.2" y1="202.9" x2="677.7" y2="202.9" stroke="#ff0000" stroke-width="1.2" />
<line x1="639.2" y1="550.5" x2="677.7" y2="550.5" stroke="#ff0000" stroke-width="1.2" />
<line x1="676.7" y1="201.4" x2="676.7" y2="552.0" stroke="#ff0000" stroke-width="1.2" />
<path d="M676.70,202.90 L678.55,211.30 L674.85,211.30 Z" fill="#ff0000" stroke="none"/>
<path d="M676.70,550.50 L674.85,542.10 L678.55,542.10 Z" fill="#ff0000" stroke="none"/>
<text x="676.4000000000001" y="376.4" font-size="11" fill="#ff0000" stroke="#ff0000" stroke-width="0.35" text-anchor="middle" textLength="31.6" lengthAdjust="spacingAndGlyphs" transform="rotate(-90 676.4000000000001 376.4)">682.2</text>
<line x1="733.6" y1="176" x2="733.6" y2="261" stroke="#ff0000" stroke-width="1.3" />
<line x1="699.9" y1="176" x2="699.9" y2="203" stroke="#ff0000" stroke-width="1.2" />
<line x1="719.8" y1="191.2" x2="719.8" y2="203" stroke="#ff0000" stroke-width="1.2" />
<line x1="759.0" y1="191.2" x2="759.0" y2="294" stroke="#ff0000" stroke-width="1.2" />
<line x1="784.4" y1="176" x2="784.4" y2="235.9" stroke="#ff0000" stroke-width="1.2" />
<line x1="761.4" y1="244.9" x2="761.4" y2="270.2" stroke="#ff0000" stroke-width="1.2" />
<line x1="784.1" y1="244.9" x2="784.1" y2="270.2" stroke="#ff0000" stroke-width="1.6" />
<line x1="698.6" y1="176.1" x2="786" y2="176.1" stroke="#ff0000" stroke-width="1.2" />
<path d="M699.90,176.10 L708.30,174.25 L708.30,177.95 Z" fill="#ff0000" stroke="none"/>
<path d="M733.30,176.10 L724.90,177.95 L724.90,174.25 Z" fill="#ff0000" stroke="none"/>
<path d="M733.30,176.10 L741.70,174.25 L741.70,177.95 Z" fill="#ff0000" stroke="none"/>
<path d="M784.40,176.10 L776.00,177.95 L776.00,174.25 Z" fill="#ff0000" stroke="none"/>
<text x="718.8" y="175.4" font-size="11" fill="#ff0000" stroke="#ff0000" stroke-width="0.35" text-anchor="middle" textLength="24.3" lengthAdjust="spacingAndGlyphs">65.9</text>
<text x="759.0" y="175.4" font-size="11" fill="#ff0000" stroke="#ff0000" stroke-width="0.35" text-anchor="middle" textLength="14.8" lengthAdjust="spacingAndGlyphs">101</text>
<line x1="667.4" y1="191.2" x2="721.2" y2="191.2" stroke="#ff0000" stroke-width="1.2" />
<path d="M699.90,191.20 L708.30,189.35 L708.30,193.05 Z" fill="#ff0000" stroke="none"/>
<path d="M719.80,191.20 L711.40,193.05 L711.40,189.35 Z" fill="#ff0000" stroke="none"/>
<text x="679.5" y="190.6" font-size="11" fill="#ff0000" stroke="#ff0000" stroke-width="0.35" text-anchor="middle" textLength="24.3" lengthAdjust="spacingAndGlyphs">38.7</text>
<line x1="733.3" y1="191.2" x2="760" y2="191.2" stroke="#ff0000" stroke-width="1.2" />
<path d="M733.30,191.20 L741.70,189.35 L741.70,193.05 Z" fill="#ff0000" stroke="none"/>
<path d="M759.00,191.20 L750.60,193.05 L750.60,189.35 Z" fill="#ff0000" stroke="none"/>
<text x="746.3" y="190.6" font-size="11" fill="#ff0000" stroke="#ff0000" stroke-width="0.35" text-anchor="middle" textLength="12.6" lengthAdjust="spacingAndGlyphs">50</text>
<line x1="761.4" y1="269.8" x2="807.6" y2="269.8" stroke="#ff0000" stroke-width="1.2" />
<path d="M761.40,269.80 L769.80,267.95 L769.80,271.65 Z" fill="#ff0000" stroke="none"/>
<path d="M784.10,269.80 L775.70,271.65 L775.70,267.95 Z" fill="#ff0000" stroke="none"/>
<path d="M784.10,269.80 L792.50,267.95 L792.50,271.65 Z" fill="#ff0000" stroke="none"/>
<text x="772.8" y="269.2" font-size="11" fill="#ff0000" stroke="#ff0000" stroke-width="0.35" text-anchor="middle" textLength="13.7" lengthAdjust="spacingAndGlyphs">43</text>
<text x="804.2" y="269.2" font-size="11" fill="#ff0000" stroke="#ff0000" stroke-width="0.35" text-anchor="middle" textLength="5.8" lengthAdjust="spacingAndGlyphs">3</text>
<line x1="784.4" y1="235.9" x2="805" y2="235.9" stroke="#ff0000" stroke-width="1.2" />
<line x1="784.4" y1="255.4" x2="805" y2="255.4" stroke="#ff0000" stroke-width="1.2" />
<line x1="803.9" y1="234.4" x2="803.9" y2="256.9" stroke="#ff0000" stroke-width="1.2" />
<path d="M803.90,235.90 L805.75,244.30 L802.05,244.30 Z" fill="#ff0000" stroke="none"/>
<path d="M803.90,255.40 L802.05,247.00 L805.75,247.00 Z" fill="#ff0000" stroke="none"/>
<text x="803.6" y="244.6" font-size="11" fill="#ff0000" stroke="#ff0000" stroke-width="0.35" text-anchor="middle" textLength="13.2" lengthAdjust="spacingAndGlyphs" transform="rotate(-90 803.6 244.6)">40</text>
</svg>
</body></html>
